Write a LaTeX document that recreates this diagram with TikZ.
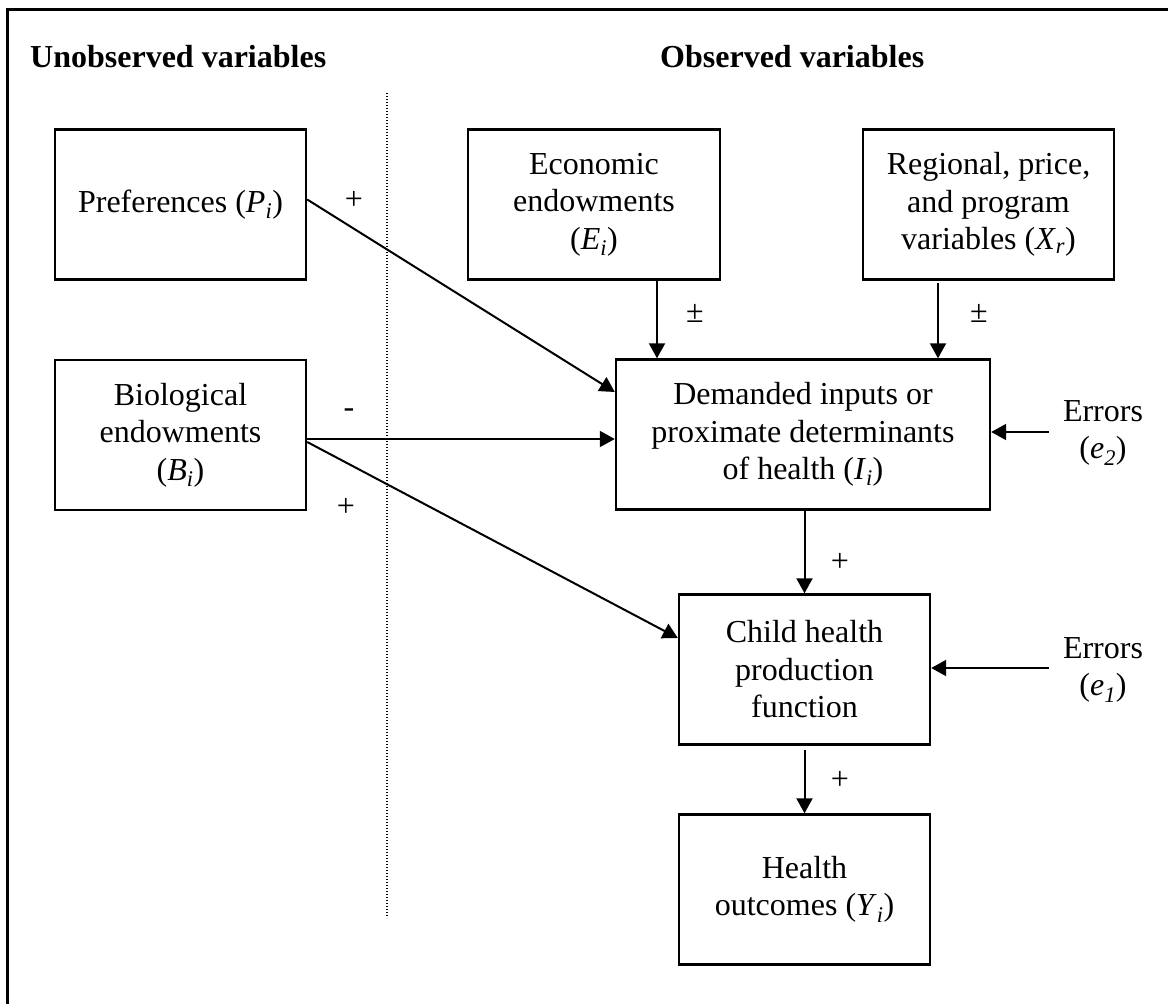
\documentclass[tikz,border=0pt]{standalone}
\usepackage{fontspec}
\setmainfont{Liberation Serif}
\usetikzlibrary{arrows.meta}
\newcommand{\vsub}[2]{\textit{#1}\textsubscript{\textit{#2}}}
\begin{document}
\begin{tikzpicture}[x=1pt,y=-1pt,
  every node/.style={inner sep=0pt},
  box/.style={draw, line width=2.4pt, align=center, minimum height=150pt,
              font=\fontsize{32}{37.5}\selectfont},
  txt/.style={align=center, font=\fontsize{32}{37.5}\selectfont},
  hdr/.style={anchor=west, font=\fontsize{32}{37.5}\selectfont\bfseries},
  arr/.style={line width=2pt, -{Triangle[length=15pt,width=16pt]}},
]
\useasboundingbox (0,0) rectangle (1168,1004);
\clip (0,0) rectangle (1168,1004);
% frame
\draw[line width=3pt] (7,1100) -- (7,9) -- (1200,9);
% headers
\node[hdr] (hu) at (30,57) {Unobserved variables};
\node[hdr] (ho) at (660,57) {Observed variables};
% divider
\coordinate (dtop) at (387,93);
\coordinate (dbot) at (387,918);
\draw[line width=1.4pt, dash pattern=on 1.4pt off 1.6pt] (dtop) -- (dbot);
% boxes
\node[box, minimum width=251pt] (pref) at (180.5,204.5) {Preferences (\vsub{P}{i})};
\node[box, minimum width=251pt] (bio) at (180.5,435) {Biological\\endowments\\(\vsub{B}{i})};
\node[box, minimum width=252pt] (econ) at (594,204.5) {Economic\\endowments\\(\vsub{E}{i})};
\node[box, minimum width=251pt] (reg) at (988.5,204.5) {Regional, price,\\and program\\variables (\vsub{X}{r})};
\node[box, minimum width=374pt] (dem) at (803,434.5) {Demanded inputs or\\proximate determinants\\of health (\vsub{I}{i})};
\node[box, minimum width=251pt] (child) at (804.5,669.5) {Child health\\production\\function};
\node[box, minimum width=251pt] (health) at (804.5,889.5) {Health\\outcomes (\vsub{Y}{i})};
\node[txt] (err2) at (1103,433) {Errors\\(\vsub{e}{2})};
\node[txt] (err1) at (1103,670) {Errors\\(\vsub{e}{1})};
% helper coordinates
\coordinate (ex) at (657,0);
\coordinate (rx) at (938,0);
\coordinate (e2s) at (1049,432);
\coordinate (e1s) at (1049,668);
% arrows
\draw[arr] ([yshift=5pt]pref.east) -- ([yshift=42.5pt]dem.west);
\draw[arr] (econ.south -| ex) -- (dem.north -| ex);
\draw[arr] ([yshift=-2pt]reg.south -| rx) -- (dem.north -| rx);
\draw[arr] ([yshift=-4pt]bio.east) -- ([yshift=-4.5pt]dem.west);
\draw[arr] ([yshift=-7pt]bio.east) -- ([yshift=31.5pt]child.west);
\draw[arr] (dem.south -| child.north) -- (child.north);
\draw[arr] ([yshift=-4pt]child.south) -- (health.north);
\draw[arr] (e2s) -- (dem.east |- e2s);
\draw[arr] (e1s) -- (child.east |- e1s);
% sign labels
\node[txt] (l1) at (354,200) {+};
\node[txt] (l2) at (695,313) {±};
\node[txt] (l3) at (979,313) {±};
\node[txt] (l4) at (349,413) {-};
\node[txt] (l5) at (346,507) {+};
\node[txt] (l6) at (840,562) {+};
\node[txt] (l7) at (840,780) {+};
\end{tikzpicture}
\end{document}
